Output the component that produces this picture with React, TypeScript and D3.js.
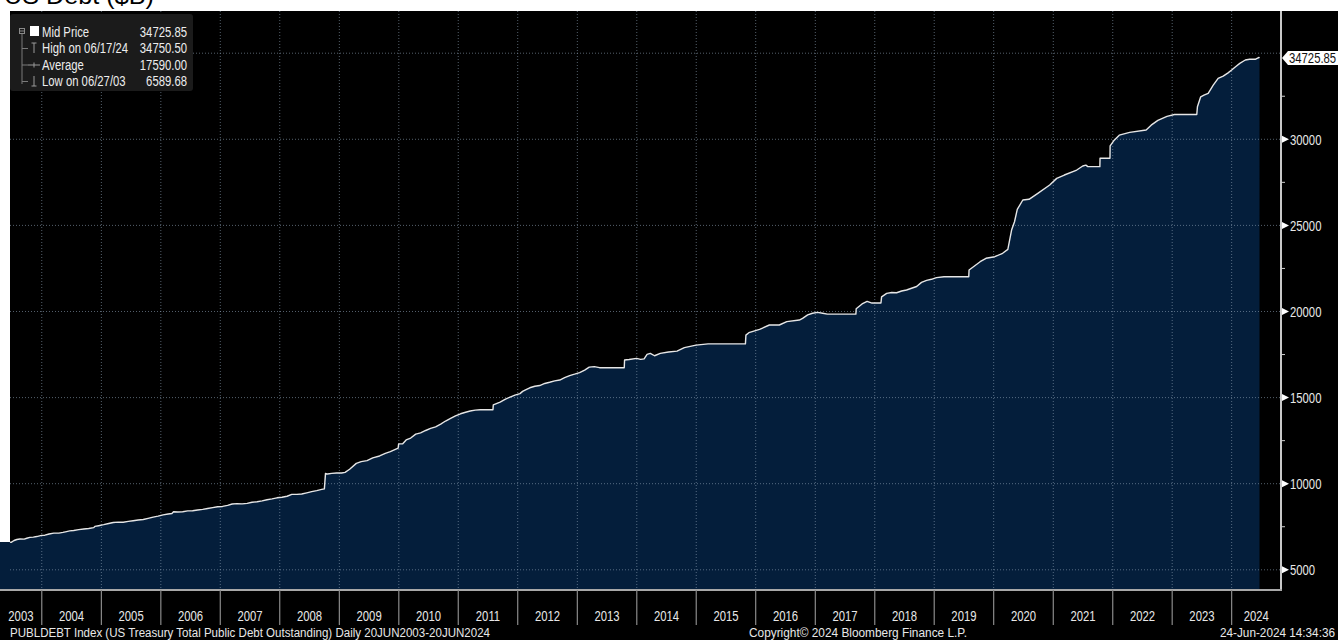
import React from 'react';
import * as d3 from 'd3';

// ---------- DATA ----------
const dates = [
  '2003-06-20','2003-06-27','2003-07-15','2003-08-01','2003-08-20','2003-09-15','2003-10-01','2003-10-20','2003-11-10','2003-12-01','2003-12-31',
  '2004-01-20','2004-02-15','2004-03-15','2004-04-15','2004-05-10','2004-06-01','2004-06-20','2004-07-15','2004-08-15','2004-09-15','2004-10-15','2004-11-15','2004-11-22','2004-12-15',
  '2005-01-15','2005-02-15','2005-03-15','2005-04-15','2005-05-15','2005-06-15','2005-07-15','2005-08-15','2005-09-15','2005-10-15','2005-11-15','2005-12-15',
  '2006-01-15','2006-02-15','2006-03-10','2006-03-20','2006-04-15','2006-05-15','2006-06-15','2006-07-15','2006-08-15','2006-09-15','2006-10-15','2006-11-15','2006-12-15',
  '2007-01-15','2007-02-15','2007-03-15','2007-04-15','2007-05-15','2007-06-15','2007-07-15','2007-08-15','2007-09-15','2007-10-15','2007-11-15','2007-12-15',
  '2008-01-15','2008-02-15','2008-03-15','2008-04-15','2008-05-15','2008-06-15','2008-07-15','2008-08-15','2008-09-15','2008-10-01','2008-10-08','2008-10-20','2008-11-15','2008-12-15',
  '2009-01-15','2009-02-05','2009-03-05','2009-04-15','2009-05-15','2009-06-20','2009-07-25','2009-09-05','2009-10-10','2009-11-10','2009-12-28','2009-12-31',
  '2010-01-25','2010-02-15','2010-03-15','2010-04-15','2010-05-15','2010-06-15','2010-07-15','2010-08-15','2010-09-15','2010-10-15','2010-11-15','2010-12-15',
  '2011-01-15','2011-02-15','2011-03-15','2011-04-15','2011-05-16','2011-08-02','2011-08-04','2011-09-15','2011-10-15','2011-11-15','2011-12-15',
  '2012-01-15','2012-01-31','2012-02-15','2012-03-15','2012-04-15','2012-05-15','2012-06-15','2012-07-15','2012-08-15','2012-09-15','2012-10-15','2012-11-15','2012-12-15',
  '2013-01-15','2013-02-15','2013-03-15','2013-04-15','2013-05-17','2013-10-16','2013-10-18','2013-11-15','2013-12-31',
  '2014-01-25','2014-02-15','2014-03-05','2014-03-25','2014-04-20','2014-05-25','2014-07-15','2014-09-05','2014-10-20','2014-12-31',
  '2015-03-15','2015-10-30','2015-11-02','2015-11-20',
  '2016-01-25','2016-03-25','2016-05-25','2016-07-10','2016-09-25','2016-10-15','2016-11-15','2016-12-15',
  '2017-01-15','2017-02-15','2017-03-16','2017-09-07','2017-09-09','2017-10-15','2017-11-15','2017-12-15',
  '2018-02-08','2018-02-12','2018-03-15','2018-04-15','2018-05-15','2018-06-15','2018-07-15','2018-08-15','2018-09-15','2018-10-15','2018-11-15','2018-12-15',
  '2019-01-15','2019-03-02','2019-08-01','2019-08-03','2019-10-10','2019-11-15',
  '2020-01-08','2020-02-25','2020-03-28','2020-04-20','2020-05-08','2020-05-25','2020-06-28','2020-08-05','2020-09-28','2020-12-10',
  '2021-01-22','2021-03-10','2021-05-25','2021-07-01','2021-07-20','2021-08-01','2021-10-14','2021-10-15','2021-12-15','2021-12-16',
  '2022-01-10','2022-02-10','2022-04-15','2022-07-25','2022-08-25','2022-10-05','2022-11-30',
  '2023-01-15','2023-06-01','2023-06-05','2023-06-25','2023-07-15','2023-08-10','2023-09-10','2023-10-10','2023-11-10','2023-12-10',
  '2024-01-01','2024-01-25','2024-02-20','2024-03-25','2024-04-20','2024-05-25','2024-06-17','2024-06-20',
];

const debt = [
  6610,6590,6700,6760,6790,6780,6830,6880,6900,6930,6998,
  7010,7080,7130,7130,7170,7220,7260,7280,7330,7370,7400,7450,7520,7560,
  7620,7690,7750,7770,7760,7810,7850,7890,7920,7990,8060,8120,
  8190,8240,8270,8370,8360,8370,8420,8430,8470,8510,8560,8610,8660,
  8680,8740,8820,8840,8830,8860,8920,8950,9000,9070,9120,9180,
  9210,9270,9380,9380,9400,9470,9540,9600,9670,9700,10600,10560,10600,10620,
  10620,10660,10840,11180,11280,11340,11500,11610,11760,11860,12060,12310,
  12320,12540,12650,12880,12950,13090,13210,13300,13460,13640,13790,13940,
  14060,14150,14220,14270,14294,14294,14580,14740,14900,15030,15140,
  15230,15360,15440,15570,15660,15700,15820,15890,15970,16020,16160,16280,16360,
  16450,16600,16770,16800,16737,16737,17180,17210,17280,
  17220,17250,17510,17570,17430,17570,17650,17700,17900,18050,
  18120,18120,18630,18770,
  18960,19215,19215,19410,19505,19600,19800,19900,
  19950,19900,19846,19846,20160,20440,20590,20490,
  20493,20850,21050,21100,21090,21190,21250,21350,21450,21690,21810,21870,
  21970,22020,22020,22410,22890,23090,
  23180,23380,23610,24730,25210,25930,26475,26515,26860,27345,
  27730,27925,28215,28450,28500,28410,28410,28900,28900,29620,
  29950,30240,30400,30540,30820,31100,31330,
  31440,31440,31890,32470,32570,32670,33150,33540,33670,33860,
  34020,34215,34410,34605,34645,34645,34750.5,34725.85,
];

const yMajorTicks = [5000, 10000, 15000, 20000, 25000, 30000, 35000];
const yLabelTicks = [5000, 10000, 15000, 20000, 25000, 30000];
const yMinorTicks = [7500, 12500, 17500, 22500, 27500, 32500];
const years = d3.range(2003, 2025);

const titleText = 'US Debt ($B)';
const legendLabels = ['Mid Price', 'High on 06/17/24', 'Average', 'Low on 06/27/03'];
const legendValues = ['34725.85', '34750.50', '17590.00', '6589.68'];
const lastValueLabel = '34725.85';
const footerLeft = 'PUBLDEBT Index (US Treasury Total Public Debt Outstanding)  Daily 20JUN2003-20JUN2024';
const footerCenter = 'Copyright\u00A9 2024 Bloomberg Finance L.P.';
const footerRight = '24-Jun-2024 14:34:36';

// ---------- LAYOUT ----------
const W = 1338;
const H = 640;
const plotLeft = 10;
const plotRight = 1281;
const plotTop = 11;
const plotBottom = 589;
const axisBottom = 625;

const FONT = '"Liberation Sans", Arial, sans-serif';
const FILL = '#041e3b';
const GRID = 'rgba(140,160,180,0.6)';
const SQUEEZE = 0.78;
const TS = 14.5;

const parse = d3.utcParse('%Y-%m-%d');
const series = dates.map((d, i) => ({ date: parse(d) as Date, value: debt[i] }));

const x = d3
  .scaleUtc()
  .domain([parse('2003-06-20') as Date, parse('2024-10-30') as Date])
  .range([plotLeft, plotRight]);

const y = d3.scaleLinear().domain([3885, 37450]).range([plotBottom, plotTop]);

const area = d3
  .area<{ date: Date; value: number }>()
  .x((d) => x(d.date))
  .y0(plotBottom)
  .y1((d) => y(d.value));

const line = d3
  .line<{ date: Date; value: number }>()
  .x((d) => x(d.date))
  .y((d) => y(d.value));

type NTProps = {
  x: number;
  y: number;
  anchor?: 'start' | 'middle' | 'end';
  size?: number;
  fill?: string;
  dy?: string;
  children: React.ReactNode;
};

function NText({ x: tx, y: ty, anchor = 'start', size = TS, fill = '#e8e8e8', dy, children }: NTProps) {
  return (
    <text
      transform={`translate(${tx},${ty}) scale(${SQUEEZE},1)`}
      textAnchor={anchor}
      fontFamily={FONT}
      fontSize={size}
      fill={fill}
      dy={dy}
    >
      {children}
    </text>
  );
}

export default function App() {
  const yearStarts = years.slice(1).map((yr) => x(new Date(Date.UTC(yr, 0, 1))));
  const labelPositions = years.map((yr) => {
    const l = Math.max(x(new Date(Date.UTC(yr, 0, 1))), 0);
    const r = Math.min(x(new Date(Date.UTC(yr + 1, 0, 1))), plotRight);
    return { yr, cx: (l + r) / 2 };
  });
  const first = series[0];
  const lastY = y(debt[debt.length - 1]);
  const rowY = (i: number) => 36.5 + i * 16.5;

  return (
    <svg
      width={W}
      height={H}
      style={{ position: 'absolute', left: 0, top: 0, display: 'block', background: '#000' }}
    >
      <rect x={0} y={0} width={W} height={H} fill="#000" />
      {/* title strip */}
      <rect x={0} y={0} width={W} height={plotTop} fill="#fff" />
      <text x={4} y={3.5} fontFamily={FONT} fontSize={24} fill="#000" textLength={150} lengthAdjust="spacingAndGlyphs">
        {titleText}
      </text>
      {/* left white column above the first value */}
      <rect x={0} y={plotTop} width={plotLeft} height={y(first.value) - plotTop} fill="#fff" />
      <rect x={0} y={y(first.value)} width={plotLeft} height={plotBottom - y(first.value)} fill={FILL} />

      {/* area */}
      <path d={area(series) || ''} fill={FILL} />

      {/* gridlines */}
      {yMajorTicks.map((t) => (
        <line key={'hg' + t} x1={plotLeft} x2={plotRight} y1={y(t)} y2={y(t)} stroke={GRID} strokeWidth={1} strokeDasharray="1,2" />
      ))}
      {yearStarts.map((xx, i) => (
        <line key={'vg' + i} x1={xx} x2={xx} y1={plotTop} y2={plotBottom} stroke={GRID} strokeWidth={1} strokeDasharray="1,2" />
      ))}

      {/* line */}
      <path d={line(series) || ''} fill="none" stroke="#e6e6e6" strokeWidth={1.4} strokeLinejoin="round" />

      {/* axes */}
      <line x1={plotRight} x2={plotRight} y1={plotTop} y2={plotBottom + 1} stroke="#c8c8c8" strokeWidth={2} />
      <line x1={0} x2={plotRight + 1} y1={plotBottom + 1} y2={plotBottom + 1} stroke="#a8a8a8" strokeWidth={2} />

      {yMinorTicks.map((t) => (
        <line key={'mt' + t} x1={plotRight} x2={plotRight + 4} y1={y(t)} y2={y(t)} stroke="#d0d0d0" strokeWidth={1} />
      ))}
      {yLabelTicks.map((t) => (
        <g key={'yl' + t}>
          <path d={`M${plotRight + 1},${y(t) - 3.5}L${plotRight + 8},${y(t)}L${plotRight + 1},${y(t) + 3.5}Z`} fill="#fff" />
          <NText x={plotRight + 9} y={y(t)} dy="0.36em">
            {t}
          </NText>
        </g>
      ))}

      {/* last value label */}
      <path
        d={`M${plotRight + 1},${lastY}L${plotRight + 7},${lastY - 7}H${W}V${lastY + 7}H${plotRight + 7}Z`}
        fill="#fff"
      />
      <NText x={plotRight + 8} y={lastY} dy="0.36em" fill="#111">
        {lastValueLabel}
      </NText>

      {/* x axis ticks and labels */}
      {yearStarts.map((xx, i) => (
        <line key={'xt' + i} x1={xx} x2={xx} y1={plotBottom + 1} y2={axisBottom} stroke="#8a8a8a" strokeWidth={1.2} />
      ))}
      {labelPositions.map((p) => (
        <NText key={'xl' + p.yr} x={p.cx} y={621} anchor="middle">
          {p.yr}
        </NText>
      ))}

      {/* footer */}
      <text x={10} y={637} fontFamily={FONT} fontSize={12.5} fill="#e8e8e8" textLength={480} lengthAdjust="spacingAndGlyphs">
        {footerLeft}
      </text>
      <text x={749} y={637} fontFamily={FONT} fontSize={12.5} fill="#e8e8e8" textLength={218} lengthAdjust="spacingAndGlyphs">
        {footerCenter}
      </text>
      <text x={1220} y={637} fontFamily={FONT} fontSize={12.5} fill="#e8e8e8" textLength={115} lengthAdjust="spacingAndGlyphs">
        {footerRight}
      </text>

      {/* legend */}
      <g>
        <rect x={10} y={14} width={183} height={77} rx={3} fill="#1b1b1b" />
        {/* tree */}
        <rect x={19.5} y={28.5} width={5} height={5} fill="none" stroke="#8a8a8a" strokeWidth={1} />
        <line x1={20} x2={24} y1={31} y2={31} stroke="#8a8a8a" strokeWidth={1} />
        <line x1={22} x2={22} y1={34} y2={rowY(3) - 2} stroke="#7a7a7a" strokeWidth={1} />
        {[1, 2, 3].map((i) => (
          <line key={'tb' + i} x1={22} x2={28} y1={rowY(i) - 4.5} y2={rowY(i) - 4.5} stroke="#7a7a7a" strokeWidth={1} />
        ))}
        {/* icons */}
        <rect x={30} y={26} width={9} height={10} fill="#fff" />
        <g stroke="#9a9a9a" strokeWidth={1}>
          <line x1={34} x2={34} y1={rowY(1) - 10} y2={rowY(1)} />
          <line x1={31.5} x2={36.5} y1={rowY(1) - 10} y2={rowY(1) - 10} />
          <line x1={28} x2={40} y1={rowY(2) - 4.5} y2={rowY(2) - 4.5} />
          <line x1={34} x2={34} y1={rowY(2) - 7} y2={rowY(2) - 2} />
          <line x1={34} x2={34} y1={rowY(3) - 10} y2={rowY(3)} />
          <line x1={31.5} x2={36.5} y1={rowY(3)} y2={rowY(3)} />
        </g>
        {legendLabels.map((l, i) => (
          <NText key={'ll' + i} x={42} y={rowY(i)} fill="#ededed">
            {l}
          </NText>
        ))}
        {legendValues.map((v, i) => (
          <NText key={'lv' + i} x={187} y={rowY(i)} anchor="end" fill="#ededed">
            {v}
          </NText>
        ))}
      </g>
    </svg>
  );
}
